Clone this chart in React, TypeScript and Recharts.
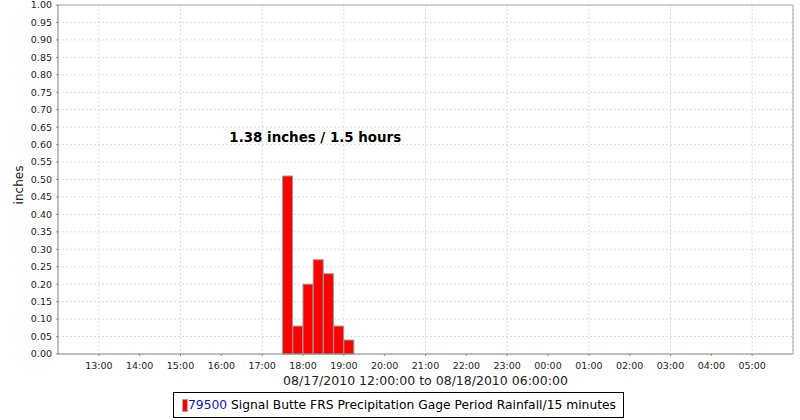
import { Bar, BarChart, CartesianGrid, Legend, ReferenceDot, ReferenceLine, XAxis, YAxis } from "recharts";

// 15-minute periods with rain, 08/17/2010
const periodStarts = ["17:30", "17:45", "18:00", "18:15", "18:30", "18:45", "19:00"];
const rainfall = [0.51, 0.08, 0.2, 0.27, 0.23, 0.08, 0.04];

// hours since midnight 08/17 (24+ = 08/18)
const hourTicks = [13, 14, 15, 16, 17, 18, 19, 20, 21, 22, 23, 24, 25, 26, 27, 28, 29];
const inchTicks = [
  0, 0.05, 0.1, 0.15, 0.2, 0.25, 0.3, 0.35, 0.4, 0.45, 0.5, 0.55, 0.6, 0.65, 0.7, 0.75, 0.8, 0.85, 0.9, 0.95, 1,
];

const SERIES_ID = "79500";
const SERIES_NAME = "Signal Butte FRS Precipitation Gage Period Rainfall/15 minutes";
const RANGE_LABEL = "08/17/2010 12:00:00 to 08/18/2010 06:00:00";
const NOTE = "1.38 inches / 1.5 hours";

const FONT = "'DejaVu Sans', sans-serif";

// bar sits in the middle of its 15 minute slot
const data = periodStarts.map((t, i) => {
  const [h, m] = t.split(":").map(Number);
  return { t, x: h + m / 60 + 0.125, value: rainfall[i] };
});

const fmtHour = (h: number) => `${String(h % 24).padStart(2, "0")}:00`;

function LegendBox() {
  return (
    <div
      style={{
        border: "1px solid #000",
        background: "#fff",
        padding: "5px 7px 5px 8px",
        fontFamily: FONT,
        fontSize: 12.3,
        whiteSpace: "nowrap",
        display: "flex",
        alignItems: "center",
      }}
    >
      <span style={{ display: "inline-block", width: 4, height: 11, background: "#f00", border: "1px solid #aaa" }} />
      <span style={{ color: "#1010c8" }}>{SERIES_ID}</span>
      <span style={{ color: "#000" }}>&nbsp;{SERIES_NAME}</span>
    </div>
  );
}

export default function App() {
  return (
    <div style={{ position: "absolute", left: 0, top: 0, width: 800, height: 420, background: "#fff" }}>
      <BarChart
        width={800}
        height={420}
        data={data}
        margin={{ top: 5, right: 7, left: 0, bottom: 36 }}
        barCategoryGap={0}
        barGap={0}
      >
        <CartesianGrid stroke="#dcdcdc" strokeDasharray="2 2" />
        <XAxis
          dataKey="x"
          type="number"
          domain={[12, 30]}
          ticks={hourTicks}
          tickFormatter={fmtHour}
          allowDataOverflow
          height={30}
          tickSize={2}
          tickMargin={6}
          stroke="#888"
          tick={{ fill: "#222", fontSize: 9.5, fontFamily: FONT }}
          label={{ value: RANGE_LABEL, position: "insideBottom", offset: -1, fill: "#222", fontSize: 12.5, fontFamily: FONT }}
        />
        <YAxis
          type="number"
          domain={[0, 1]}
          ticks={inchTicks}
          tickFormatter={(v: number) => v.toFixed(2)}
          width={58}
          tickSize={2}
          tickMargin={4}
          stroke="#888"
          interval={0}
          tick={{ fill: "#222", fontSize: 9.5, fontFamily: FONT }}
          label={{
            content: () => (
              <text x={23} y={185} transform="rotate(-90 23 185)" textAnchor="middle" fill="#222" fontSize={12} fontFamily={FONT}>
                inches
              </text>
            ),
          }}
        />
        <ReferenceLine y={1} stroke="#aaa" />
        <ReferenceLine x={30} stroke="#aaa" />
        <Bar dataKey="value" name={SERIES_NAME} fill="#ff0000" stroke="#999" strokeWidth={1} isAnimationActive={false} />
        <ReferenceDot
          x={18.3}
          y={0.62}
          r={0}
          fill="none"
          stroke="none"
          label={{ value: NOTE, position: "center", fill: "#000", fontSize: 13.4, fontWeight: "bold", fontFamily: FONT }}
        />
        <Legend
          layout="vertical"
          align="center"
          verticalAlign="middle"
          content={() => <LegendBox />}
          wrapperStyle={{ left: 173, top: 392, width: "auto" }}
        />
      </BarChart>
    </div>
  );
}
